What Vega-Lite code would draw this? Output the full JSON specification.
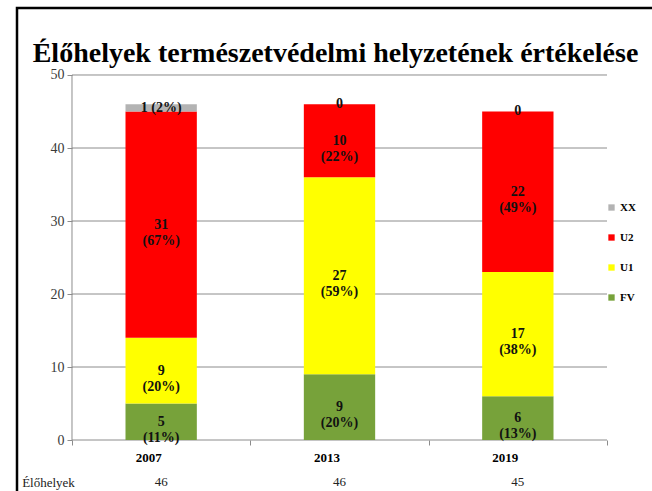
{
  "$schema": "https://vega.github.io/schema/vega-lite/v6.json",
  "width": 645,
  "height": 490,
  "autosize": {"type": "none"},
  "padding": {"left": 17, "top": 8, "right": 0, "bottom": 0},
  "background": "white",
  "config": {
    "view": {"stroke": "#000000", "strokeWidth": 2.5},
    "font": "Liberation Serif"
  },
  "title": {
    "text": "Élőhelyek természetvédelmi helyzetének értékelése",
    "font": "Liberation Serif",
    "fontSize": 28,
    "fontWeight": "bold",
    "color": "#000000",
    "anchor": "middle",
    "frame": "group",
    "baseline": "alphabetic",
    "offset": -58,
    "dx": -4,
    "dy": 24
  },
  "data": {
    "values": [
      {"year": "2007", "cat": "FV", "value": 5, "label": "5\n(11%)"},
      {"year": "2007", "cat": "U1", "value": 9, "label": "9\n(20%)"},
      {"year": "2007", "cat": "U2", "value": 31, "label": "31\n(67%)"},
      {"year": "2007", "cat": "XX", "value": 1, "label": "1 (2%)"},
      {"year": "2013", "cat": "FV", "value": 9, "label": "9\n(20%)"},
      {"year": "2013", "cat": "U1", "value": 27, "label": "27\n(59%)"},
      {"year": "2013", "cat": "U2", "value": 10, "label": "10\n(22%)"},
      {"year": "2013", "cat": "XX", "value": 0, "label": "0"},
      {"year": "2019", "cat": "FV", "value": 6, "label": "6\n(13%)"},
      {"year": "2019", "cat": "U1", "value": 17, "label": "17\n(38%)"},
      {"year": "2019", "cat": "U2", "value": 22, "label": "22\n(49%)"},
      {"year": "2019", "cat": "XX", "value": 0, "label": "0"}
    ]
  },
  "layer": [
    {
      "data": {"values": [{"g": 0}, {"g": 10}, {"g": 20}, {"g": 30}, {"g": 40}, {"g": 50}]},
      "mark": {"type": "rule", "color": "#8c8c8c", "strokeWidth": 1},
      "encoding": {
        "x": {"datum": "2007", "type": "nominal", "bandPosition": 0},
        "x2": {"datum": "2019", "bandPosition": 1},
        "y": {"field": "g", "type": "quantitative"}
      }
    },
    {
      "mark": {"type": "bar", "width": {"band": 0.4}},
      "encoding": {
        "x": {
          "field": "year",
          "type": "nominal",
          "scale": {"paddingInner": 0, "paddingOuter": 0.3084, "align": 0.5},
          "axis": {
            "orient": "bottom",
            "offset": -58,
            "domain": false,
            "tickBand": "extent",
            "tickSize": 5,
            "tickColor": "#8c8c8c",
            "labelAngle": 0,
            "labelFont": "Liberation Serif",
            "labelFontSize": 13,
            "labelFontWeight": "bold",
            "labelColor": "#000000",
            "labelPadding": 12,
            "title": "Élőhelyek",
            "titleFont": "Liberation Serif",
            "titleFontSize": 13,
            "titleFontWeight": "normal",
            "titleColor": "#222222",
            "titleX": 31,
            "titleY": 42,
            "titleAlign": "center",
            "titleBaseline": "middle",
            "titleAnchor": null
          }
        },
        "y": {
          "field": "value",
          "type": "quantitative",
          "stack": "zero",
          "scale": {"domain": [-7.945, 59.178], "nice": false, "zero": false},
          "axis": {
            "orient": "left",
            "offset": -55,
            "values": [0, 10, 20, 30, 40, 50],
            "grid": false,
            "domain": false,
            "tickSize": 5,
            "tickColor": "#8c8c8c",
            "labelFont": "Liberation Serif",
            "labelFontSize": 14,
            "labelColor": "#3a3a3a",
            "labelPadding": 3,
            "title": null
          }
        },
        "color": {
          "field": "cat",
          "type": "nominal",
          "scale": {
            "domain": ["XX", "U2", "U1", "FV"],
            "range": ["#b3b3b3", "#ff0000", "#ffff00", "#77a23a"]
          },
          "legend": {
            "orient": "none",
            "legendX": 589,
            "legendY": 194,
            "title": null,
            "symbolType": "square",
            "symbolSize": 40,
            "symbolStrokeWidth": 0,
            "labelFont": "Liberation Serif",
            "labelFontSize": 11,
            "labelFontWeight": "bold",
            "labelColor": "#000000",
            "labelOffset": 3,
            "rowPadding": 18
          }
        },
        "order": {"field": "cat", "sort": "ascending"}
      }
    },
    {
      "data": {"values": [{"a": 1}]},
      "mark": {"type": "rule", "color": "#8c8c8c", "strokeWidth": 1},
      "encoding": {
        "x": {"datum": "2007", "type": "nominal", "bandPosition": 0},
        "y": {"datum": 0, "type": "quantitative"},
        "y2": {"datum": 50}
      }
    },
    {
      "mark": {
        "type": "text",
        "font": "Liberation Serif",
        "fontSize": 14,
        "fontWeight": "bold",
        "color": "#111111",
        "baseline": "middle",
        "align": "center",
        "lineBreak": "\n",
        "lineHeight": 16
      },
      "encoding": {
        "x": {"field": "year", "type": "nominal"},
        "y": {"field": "value", "type": "quantitative", "stack": "zero", "bandPosition": 0.5},
        "detail": {"field": "cat"},
        "order": {"field": "cat", "sort": "ascending"},
        "text": {"field": "label"}
      }
    },
    {
      "transform": [
        {"aggregate": [{"op": "sum", "field": "value", "as": "total"}], "groupby": ["year"]}
      ],
      "mark": {
        "type": "text",
        "font": "Liberation Serif",
        "fontSize": 13,
        "color": "#222222",
        "baseline": "middle",
        "align": "center"
      },
      "encoding": {
        "x": {"field": "year", "type": "nominal"},
        "y": {"datum": -5.75, "type": "quantitative"},
        "text": {"field": "total", "type": "quantitative"}
      }
    }
  ]
}
